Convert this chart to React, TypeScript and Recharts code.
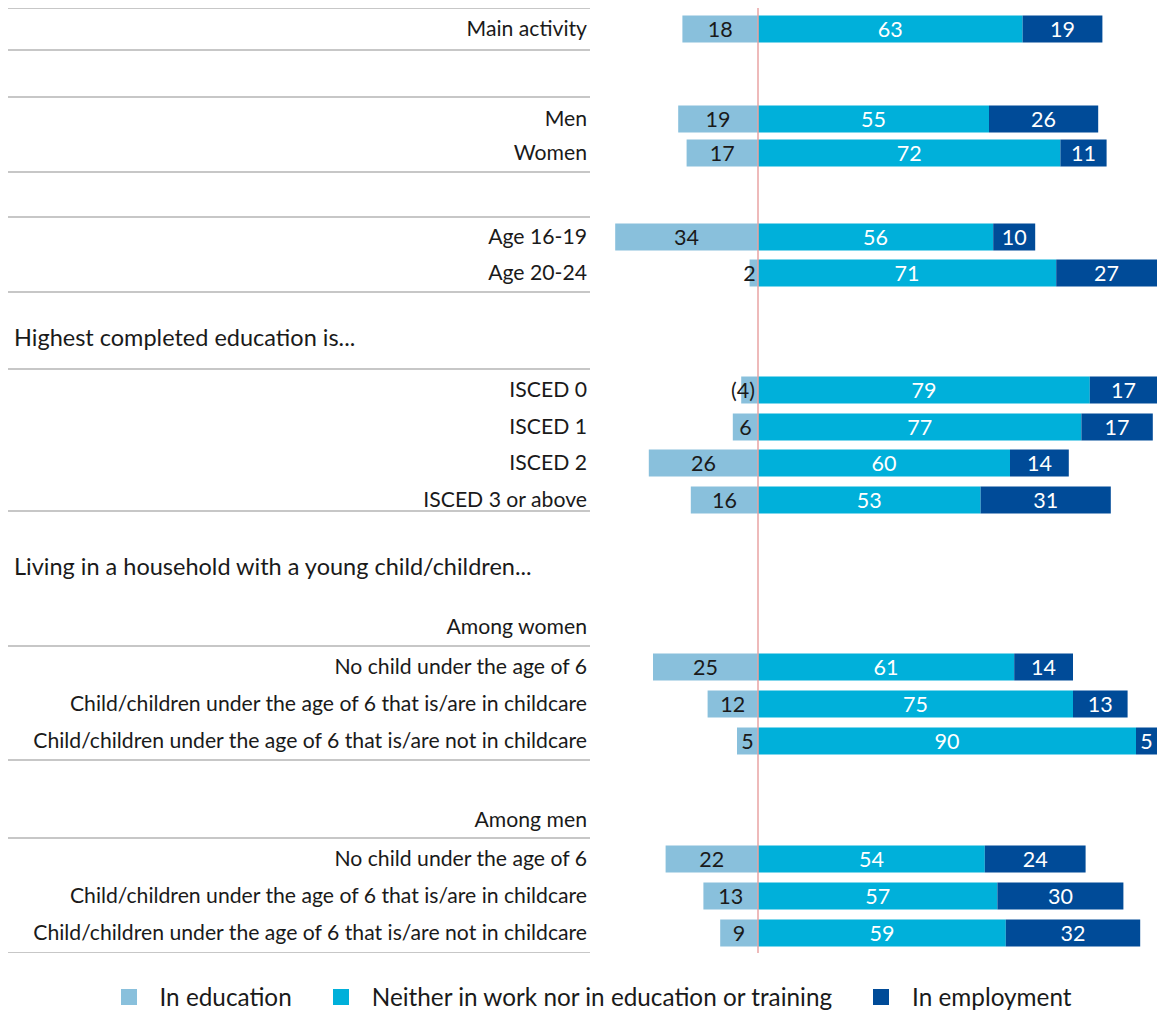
import React from "react";
import { Bar, BarChart, LabelList, ReferenceLine, XAxis, YAxis } from "recharts";

const CATEGORIES = [
  "Main activity",
  "Men",
  "Women",
  "Age 16-19",
  "Age 20-24",
  "ISCED 0",
  "ISCED 1",
  "ISCED 2",
  "ISCED 3 or above",
  "No child under the age of 6",
  "Child/children under the age of 6 that is/are in childcare",
  "Child/children under the age of 6 that is/are not in childcare",
  "No child under the age of 6",
  "Child/children under the age of 6 that is/are in childcare",
  "Child/children under the age of 6 that is/are not in childcare",
];

const IN_EDUCATION = [18, 19, 17, 34, 2, 4, 6, 26, 16, 25, 12, 5, 22, 13, 9];
const NEITHER = [63, 55, 72, 56, 71, 79, 77, 60, 53, 61, 75, 90, 54, 57, 59];
const IN_EMPLOYMENT = [19, 26, 11, 10, 27, 17, 17, 14, 31, 14, 13, 5, 24, 30, 32];
// values shown in brackets (low reliability)
const BRACKETED = [false, false, false, false, false, true, false, false, false, false, false, false, false, false, false];

const SERIES_NAMES = ["In education", "Neither in work nor in education or training", "In employment"];
const HEADER_TEXTS = [
  "Highest completed education is...",
  "Living in a household with a young child/children...",
  "Among women",
  "Among men",
];

// layout (vertical position axis, 1 unit = 1px from the top)
const ROW_POS = [20.5, 110.5, 144.5, 228.5, 264.5, 381.5, 418.5, 454.5, 491.5, 658.5, 695.5, 732.5, 850.5, 887.5, 924.5];
const SEPARATOR_POS = [0, 42, 89, 164, 209, 284, 361, 503, 638, 752, 830, 945];
const HEADER_POS = [330, 559, 618, 811];
const HEADER_LEFT = [true, true, false, false];

const COLORS = ["#89c0dc", "#00b0da", "#004b98"];
const FONT = "Lato, 'Open Sans', sans-serif";
const AXIS_W = 582;
const PLOT_H = 945;

const data = CATEGORIES.map((name, i) => ({
  name,
  pos: ROW_POS[i],
  edu: -IN_EDUCATION[i],
  neither: NEITHER[i],
  employment: IN_EMPLOYMENT[i],
  eduLabel: BRACKETED[i] ? `(${IN_EDUCATION[i]})` : String(IN_EDUCATION[i]),
}));

function RowTick({ x, y, payload }: any) {
  const i = ROW_POS.indexOf(payload.value);
  return (
    <text x={x} y={y} dy="0.36em" textAnchor="end" fontFamily={FONT} fontSize={21.2} fill="#1a1a1a">
      {CATEGORIES[i]}
    </text>
  );
}

function textWidth(s: string) {
  let w = 0;
  for (const c of s) w += c === "(" || c === ")" ? 6.5 : 11.2;
  return w;
}

function EduLabel({ x, y, width, height, value }: any) {
  const left = Math.min(x, x + width);
  const right = Math.max(x, x + width);
  const text = String(value);
  const cx = Math.min((left + right) / 2, right - 3 - textWidth(text) / 2);
  return (
    <text x={cx} y={y + height / 2} dy="0.36em" textAnchor="middle" fontFamily={FONT} fontSize={21.5} fill="#1a1a1a">
      {text}
    </text>
  );
}

function WhiteLabel({ x, y, width, height, value }: any) {
  return (
    <text x={x + width / 2} y={y + height / 2} dy="0.36em" textAnchor="middle" fontFamily={FONT} fontSize={21.5} fill="#ffffff">
      {value}
    </text>
  );
}

export default function App() {
  return (
    <div
      style={{
        position: "relative",
        width: 1157,
        height: 1012,
        overflow: "hidden",
        boxSizing: "border-box",
        padding: "8px 0 0 8px",
        background: "#fff",
        fontFamily: FONT,
      }}
    >
      <style>{"body{margin:0}"}</style>
      <BarChart
        width={1149}
        height={PLOT_H}
        data={data}
        layout="vertical"
        stackOffset="sign"
        margin={{ top: 0, right: 0, bottom: 0, left: 0 }}
      >
        <XAxis type="number" domain={[-40, 95]} allowDataOverflow hide />
        <YAxis
          type="number"
          dataKey="pos"
          domain={[0, PLOT_H]}
          ticks={ROW_POS}
          interval={0}
          width={AXIS_W}
          axisLine={false}
          tickLine={false}
          tickSize={0}
          tickMargin={3}
          tick={<RowTick />}
        />
        {SEPARATOR_POS.map((p) => (
          <ReferenceLine
            key={`sep-${p}`}
            y={p}
            shape={(l: any) => (
              <line x1={0} x2={l.x1} y1={l.y1} y2={l.y1} stroke="#b4b4b4" strokeWidth={1.5} />
            )}
          />
        ))}
        {HEADER_POS.map((p, i) => (
          <ReferenceLine
            key={`hdr-${p}`}
            y={p}
            shape={(l: any) => (
              <text
                x={HEADER_LEFT[i] ? 6 : l.x1 - 3}
                y={l.y1}
                dy="0.36em"
                textAnchor={HEADER_LEFT[i] ? "start" : "end"}
                fontFamily={FONT}
                fontSize={HEADER_LEFT[i] ? 23.5 : 21.2}
                fill="#1a1a1a"
              >
                {HEADER_TEXTS[i]}
              </text>
            )}
          />
        ))}
        <Bar dataKey="edu" name={SERIES_NAMES[0]} stackId="s" fill={COLORS[0]} barSize={27} isAnimationActive={false}>
          <LabelList dataKey="eduLabel" content={<EduLabel />} />
        </Bar>
        <Bar dataKey="neither" name={SERIES_NAMES[1]} stackId="s" fill={COLORS[1]} barSize={27} isAnimationActive={false}>
          <LabelList dataKey="neither" content={<WhiteLabel />} />
        </Bar>
        <Bar dataKey="employment" name={SERIES_NAMES[2]} stackId="s" fill={COLORS[2]} barSize={27} isAnimationActive={false}>
          <LabelList dataKey="employment" content={<WhiteLabel />} />
        </Bar>
        <ReferenceLine x={0} stroke="#e8a3a3" strokeWidth={1.5} />
      </BarChart>
      <div
        style={{
          position: "absolute",
          left: 8,
          top: 985,
          width: 1149,
          display: "flex",
          justifyContent: "center",
          alignItems: "center",
          paddingLeft: 27,
          boxSizing: "border-box",
          height: 24,
          lineHeight: "24px",
          fontSize: 24.3,
          color: "#1a1a1a",
        }}
      >
        {SERIES_NAMES.map((n, i) => (
          <div key={n} style={{ display: "flex", alignItems: "center", marginLeft: i === 0 ? 0 : 41 }}>
            <span style={{ width: 16, height: 16, background: COLORS[i], marginRight: 23, display: "inline-block" }} />
            <span>{n}</span>
          </div>
        ))}
      </div>
    </div>
  );
}
